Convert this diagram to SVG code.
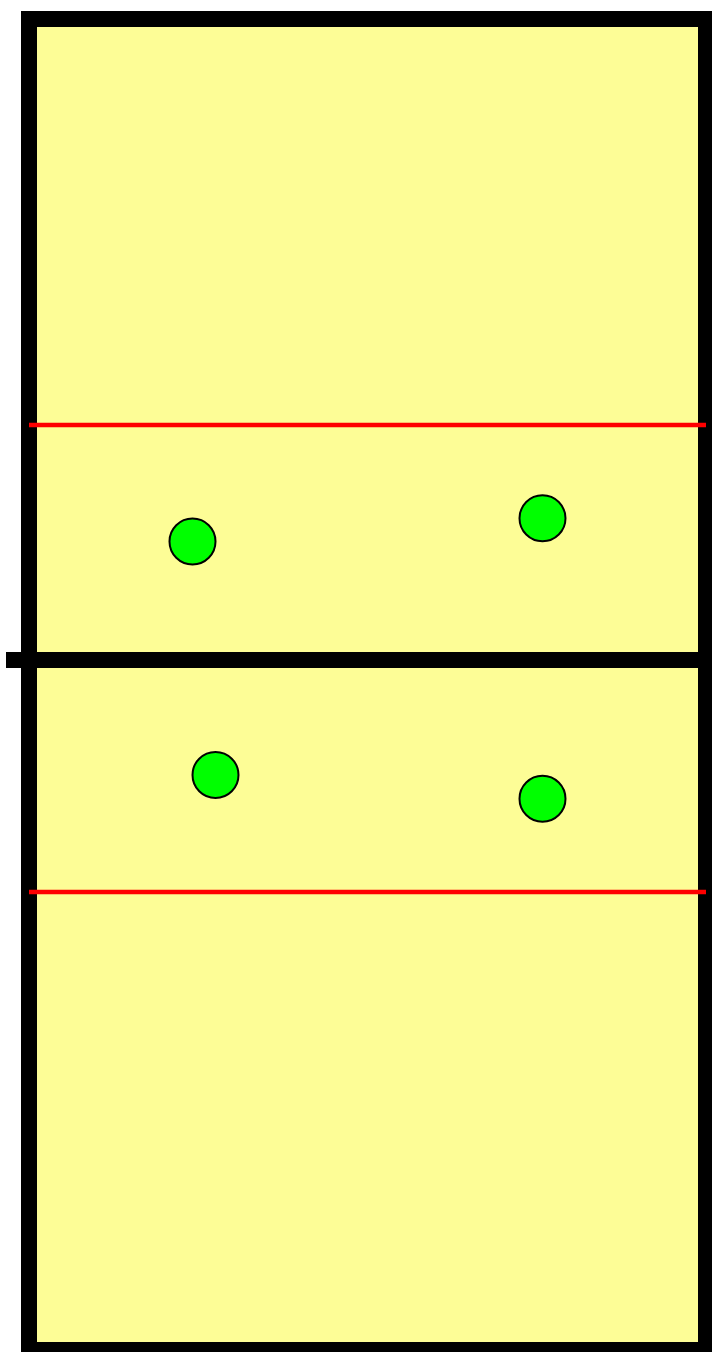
<svg xmlns="http://www.w3.org/2000/svg" width="712" height="1352" viewBox="0 0 712 1352">
<style>
.court{fill:#fdfd96;stroke:#000;stroke-width:16}
.net{stroke:#000;stroke-width:16}
.attack{stroke:#ff0000;stroke-width:4.5}
.player{fill:#00ff00;stroke:#000;stroke-width:2}
</style>
<rect width="712" height="1352" fill="#fff"/>
<rect class="court" x="29" y="19" width="677" height="1331"/>
<line class="attack" x1="29" y1="425" x2="706" y2="425"/>
<line class="attack" x1="29" y1="892" x2="706" y2="892"/>
<line class="net" x1="6" y1="660" x2="706" y2="660"/>
<g id="p1"><circle class="player" cx="192.5" cy="541.5" r="23"/></g>
<g id="p2"><circle class="player" cx="542.5" cy="518.3" r="23"/></g>
<g id="p3"><circle class="player" cx="215.5" cy="775" r="23"/></g>
<g id="p4"><circle class="player" cx="542.5" cy="798.8" r="23"/></g>
</svg>
